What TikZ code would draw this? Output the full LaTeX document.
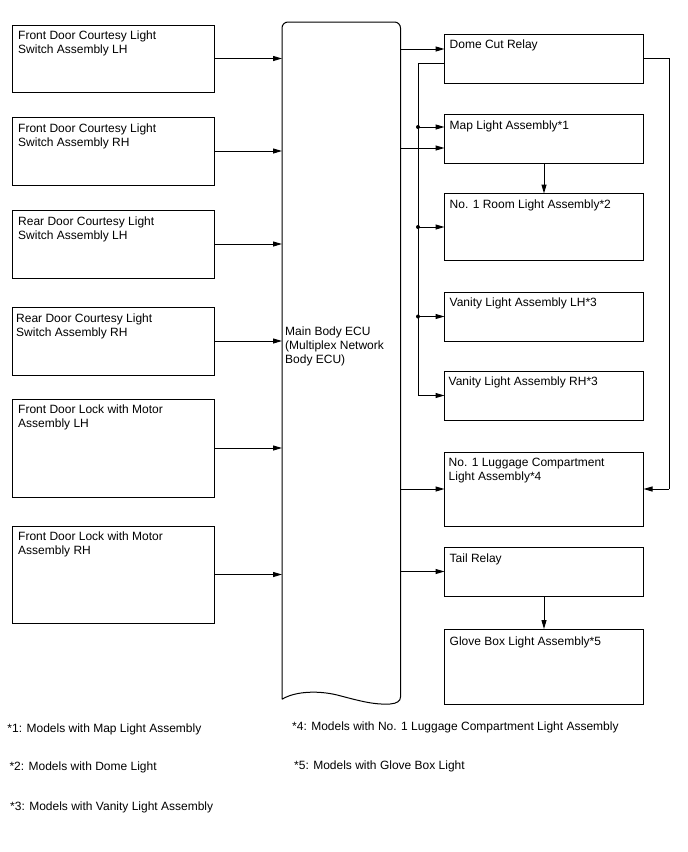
\documentclass[tikz,border=0pt]{standalone}
\usepackage{fontspec}
\setmainfont{Liberation Sans}
\usetikzlibrary{arrows.meta,calc}
\begin{document}
\begin{tikzpicture}[x=1pt,y=-1pt,
  box/.style={draw, line width=1pt, inner sep=0pt, outer sep=0pt, anchor=north west},
  lbl/.style={anchor=base west, align=left, inner sep=0pt, font=\fontsize{12}{14}\selectfont},
  note/.style={anchor=base west, inner sep=0pt, font=\fontsize{12}{14}\selectfont},
  arr/.style={line width=1pt, -{Triangle[length=9pt,width=5pt]}},
  ln/.style={line width=1pt},
  dot/.style={circle, fill, inner sep=0pt, minimum size=4pt}]
\useasboundingbox (0,0) rectangle (688,852);

% left boxes
\node[box, minimum width=202pt, minimum height=67pt] (b1) at (12,25) {};
\node[box, minimum width=202pt, minimum height=68pt] (b2) at (12,117) {};
\node[box, minimum width=202pt, minimum height=68pt] (b3) at (12,210) {};
\node[box, minimum width=202pt, minimum height=68pt] (b4) at (12,307) {};
\node[box, minimum width=202pt, minimum height=98pt] (b5) at (12,399) {};
\node[box, minimum width=202pt, minimum height=97pt] (b6) at (12,526) {};
% multi-line labels: base anchor = baseline of last line (first line + 14)
\node[lbl] (t1) at ($(b1.north west)+(6,28.5)$) {Front Door Courtesy Light\\Switch Assembly LH};
\node[lbl] (t2) at ($(b2.north west)+(6,29)$) {Front Door Courtesy Light\\Switch Assembly RH};
\node[lbl] (t3) at ($(b3.north west)+(6,29)$) {Rear Door Courtesy Light\\Switch Assembly LH};
\node[lbl] (t4) at ($(b4.north west)+(4,29)$) {Rear Door Courtesy Light\\Switch Assembly RH};
\node[lbl] (t5) at ($(b5.north west)+(6,28)$) {Front Door Lock with Motor\\Assembly LH};
\node[lbl] (t6) at ($(b6.north west)+(6,28)$) {Front Door Lock with Motor\\Assembly RH};

% ECU
\node[inner sep=0pt, outer sep=0pt, minimum width=118.5pt, minimum height=678pt, anchor=north west] (ecu) at (282,22) {};
\draw[ln] (282,699.3) -- (282,28) arc[start angle=180, end angle=90, radius=6pt]
  -- (394.5,22) arc[start angle=90, end angle=0, radius=6pt] -- (400.5,697)
  .. controls (400.5,701) and (397,703.5) .. (390,704)
  .. controls (375,705) and (360,701) .. (341,696)
  .. controls (320,690) and (295,691) .. (282,699.3);
\node[lbl] (tecu) at (285,363) {Main Body ECU\\(Multiplex Network\\Body ECU)};

% right boxes
\node[box, minimum width=199pt, minimum height=49pt] (dome) at (444.5,34) {};
\node[box, minimum width=199pt, minimum height=49pt] (map) at (444.5,114) {};
\node[box, minimum width=199pt, minimum height=67pt] (room) at (444.5,193.5) {};
\node[box, minimum width=199pt, minimum height=49pt] (vlh) at (444.5,292) {};
\node[box, minimum width=199pt, minimum height=49pt] (vrh) at (444.5,371) {};
\node[box, minimum width=199pt, minimum height=74pt] (lug) at (444.5,452) {};
\node[box, minimum width=199pt, minimum height=49pt] (tail) at (444.5,547) {};
\node[box, minimum width=199pt, minimum height=75pt] (glove) at (444.5,629) {};
\node[lbl] (tdome) at ($(dome.north west)+(5,14)$) {Dome Cut Relay};
\node[lbl] (tmap) at ($(map.north west)+(5,15)$) {Map Light Assembly*1};
\node[lbl] (troom) at ($(room.north west)+(5,15)$) {No. 1 Room Light Assembly*2};
\node[lbl] (tvlh) at ($(vlh.north west)+(5,14)$) {Vanity Light Assembly LH*3};
\node[lbl] (tvrh) at ($(vrh.north west)+(4,14)$) {Vanity Light Assembly RH*3};
\node[lbl] (tlug) at ($(lug.north west)+(4,28.5)$) {No. 1 Luggage Compartment\\Light Assembly*4};
\node[lbl] (ttail) at ($(tail.north west)+(5,15)$) {Tail Relay};
\node[lbl] (tglove) at ($(glove.north west)+(5,16)$) {Glove Box Light Assembly*5};

% left arrows
\foreach \b in {b1,b2,b3,b4,b5,b6}
  \draw[arr] (\b.east) -- (\b.east -| ecu.west);

% ECU to right boxes
\coordinate (dIn) at (444.5,49);
\coordinate (mIn) at (444.5,148);
\draw[arr] (ecu.east |- dIn) -- (dIn);
\draw[arr] (ecu.east |- mIn) -- (mIn);
\draw[arr] (ecu.east |- lug.west) -- (lug.west);
\draw[arr] (ecu.east |- tail.west) -- (tail.west);

% dome cut relay bus
\coordinate (dOut) at (444.5,63);
\coordinate (bus) at (418,63);
\coordinate (mBus) at (444.5,127);
\draw[ln] (dOut) -- (bus) -- (bus |- vrh.west);
\draw[arr] (bus |- vrh.west) -- (vrh.west);
\draw[arr] (bus |- mBus) -- (mBus);
\draw[arr] (bus |- room.west) -- (room.west);
\draw[arr] (bus |- vlh.west) -- (vlh.west);
\node[dot] (j1) at (bus |- mBus) {};
\node[dot] (j2) at (bus |- room.west) {};
\node[dot] (j3) at (bus |- vlh.west) {};

% dome cut relay right loop to luggage
\coordinate (dR) at (643.5,58);
\coordinate (loop) at (669,58);
\draw[ln] (dR) -- (loop) -- (loop |- lug.east);
\draw[arr] (loop |- lug.east) -- (lug.east);

% vertical arrows
\draw[arr] (map.south) -- (room.north);
\draw[arr] (tail.south) -- (glove.north);

% footnotes
\node[note] (n1) at (7.3,732.3) {*1: Models with Map Light Assembly};
\node[note] (n2) at (9.3,770.7) {*2: Models with Dome Light};
\node[note] (n3) at (10,810) {*3: Models with Vanity Light Assembly};
\node[note] (n4) at (292,730.7) {*4: Models with No. 1 Luggage Compartment Light Assembly};
\node[note] (n5) at (294,769.3) {*5: Models with Glove Box Light};
\end{tikzpicture}
\end{document}
